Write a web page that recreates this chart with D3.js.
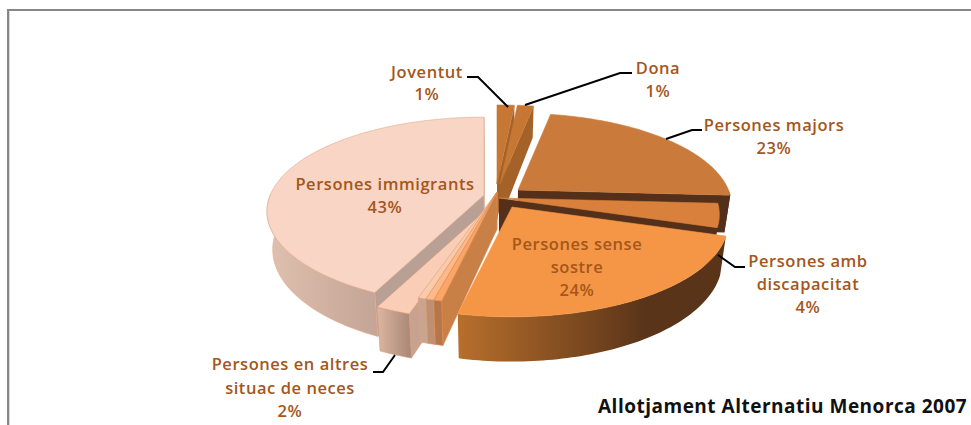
<!DOCTYPE html>
<html><head><meta charset="utf-8">
<script src="https://cdn.jsdelivr.net/npm/d3@7"></script>
<style>html,body{margin:0;padding:0;background:#fff}svg{display:block}</style>
</head><body><svg id="c" width="971" height="425"></svg>
<script>
// data
const categories = ["", "Joventut", "Dona", "Persones majors", "Persones amb discapacitat", "Persones sense sostre", "", "", "", "Persones en altres situac de neces", "Persones immigrants"];
const values = [0.5, 1, 1.4, 23, 4, 23.5, 0.5, 0.5, 0.5, 2.2, 42.9];
const title = "Allotjament Alternatiu Menorca 2007";

// layout / style (separate from the data)
const W = 971, H = 425;
const R = 217, K = 92.7 / 217, P = 0.173, DEPTH = 37, TAPER = 0.975;
const apexes = [[497,184],[497,184],[500,184],[518,190],[499,198],[512,207],[497,192],[497,192],[497,192],[488,208],[484,195]];
const radiusScale = [1,1,1,0.97,1,0.98,1,1,1,1,0.985];
const paintOrder = [0,1,2,3,10,4,9,8,7,6,5];
const topFill = ["#c67734","#c67734","#c67734","#ca7a3a","#d9813c","#f59646","#fba566","#fdb98a","#fbcaa9","#f9cdb6","#f8d5c4"];
const edge = ["#c67734","#c67734","#c67734","#ca7a3a","#d9813c","#f59646","#e08c50","#e09a6c","#dda27e","#dd9a74","#dfa98c"];
const faceFill = ["#a56228","#a56228","#a56228","#54301a","#54301a","#8d5424","#c98047","#c08f6e","#c9a590","#c8a290","#b8a094"];
const sideFrom = ["#a56228","#a56228","#a56228","#54301a","#54301a","#b86f2c","#b57749","#bd8f73","#c9a590","#dcb6a2","#e0c0ae"];
const sideTo = ["#a56228","#a56228","#a56228","#54301a","#54301a","#5a3419","#b57749","#bd8f73","#c9a590","#ab8a78","#c4a596"];
const leaders = [
  [[467,77],[478,77],[508,107]],
  [[632,73],[620,73],[525,105]],
  [[702,130],[692,130],[666,139]],
  [[718,255],[735,267],[745,267]],
  [[395,355],[383,372],[373,372]]
];
const labelLines = [null,["Joventut"],["Dona"],["Persones majors"],["Persones amb","discapacitat"],["Persones sense","sostre"],null,null,null,["Persones en altres","situac de neces"],["Persones immigrants"]];
const labelPos = [null,[427,78,22],[658,74,23],[774,131,23],[808,267,23],[577,250,23],null,null,null,[290,370,23.5],[385,190,23]];

const svg = d3.select("#c");
const defs = svg.append("defs");
const line = d3.line();
const total = d3.sum(values);
const arcs = d3.pie().sort(null).value(d => d)(values);

const topPt = (i, th) => {
  const u = Math.sin(th), v = -Math.cos(th), s = 1 / (1 - P * v);
  const a = apexes[i], rr = R * radiusScale[i];
  return [a[0] + rr * u * s, a[1] + rr * K * v * s];
};
const botPt = (i, p, th) => {
  const s = th === null ? 1 : 1 / (1 + P * Math.cos(th));
  return [497 + (p[0] - 497) * TAPER, p[1] + DEPTH * s];
};
const cross = (a, b, c) => (b[0]-a[0])*(c[1]-a[1]) - (b[1]-a[1])*(c[0]-a[0]);

// border
svg.append("path").attr("d", line([[9.5, H], [9.5, 11.5]])).attr("fill", "none").attr("stroke", "#d8d8d8").attr("stroke-width", 1);
svg.append("path").attr("d", line([[8, H], [8, 10], [W, 10]])).attr("fill", "none").attr("stroke", "#868686").attr("stroke-width", 2);

paintOrder.forEach(i => {
  const a = arcs[i], t0 = a.startAngle, t1 = a.endAngle;
  const n = Math.max(4, Math.ceil((t1 - t0) / 0.02));
  const ths = d3.range(n + 1).map(j => t0 + (t1 - t0) * j / n);
  const top = ths.map(t => topPt(i, t));
  const apex = apexes[i];
  const apexB = botPt(i, apex, null);
  const mid = top[Math.floor(n / 2)];
  const g = svg.append("g");
  // cut faces: only the one whose outside lies below its top edge
  [[top[0], t0], [top[n], t1]].forEach(([c, t]) => {
    const below = [(apex[0] + c[0]) / 2, (apex[1] + c[1]) / 2 + 1];
    if (cross(apex, c, below) * cross(apex, c, mid) < 0) {
      g.append("path").attr("d", line([apex, c, botPt(i, c, t), apexB]) + "Z")
        .attr("fill", faceFill[i]).attr("stroke", edge[i]).attr("stroke-width", i > 5 ? 0.5 : 0);
    }
  });
  // outer wall, front part only
  const vis = ths.filter(t => Math.cos(t) < 0.02);
  if (vis.length > 1) {
    const tp = vis.map(t => topPt(i, t));
    const bp = vis.map((t, j) => botPt(i, tp[j], t));
    const id = "wall" + i;
    const xs = d3.extent(tp, d => d[0]);
    const lg = defs.append("linearGradient").attr("id", id).attr("gradientUnits", "userSpaceOnUse")
      .attr("x1", xs[0]).attr("x2", xs[1]).attr("y1", 0).attr("y2", 0);
    lg.append("stop").attr("offset", 0).attr("stop-color", sideFrom[i]);
    lg.append("stop").attr("offset", i === 5 ? 0.7 : 1).attr("stop-color", sideTo[i]);
    g.append("path").attr("d", line(tp.concat(bp.reverse())) + "Z").attr("fill", `url(#${id})`)
      .attr("stroke", edge[i]).attr("stroke-width", i > 5 ? 0.6 : 0);
  }
  // top
  g.append("path").attr("d", line([apex].concat(top)) + "Z").attr("fill", topFill[i])
    .attr("stroke", edge[i]).attr("stroke-width", 0.6);
});

// leader lines
leaders.forEach(l => svg.append("path").attr("d", line(l)).attr("fill", "none").attr("stroke", "#000").attr("stroke-width", 2));

// labels
const font = "'Open Sans', sans-serif";
categories.forEach((c, i) => {
  if (!labelLines[i]) return;
  const [x, y, dy] = labelPos[i];
  const t = svg.append("text").attr("text-anchor", "middle").attr("font-family", font).attr("font-weight", 600)
    .attr("font-size", 16.5).attr("letter-spacing", 0.55).attr("fill", "#a4561b");
  const pct = Math.round(values[i] / total * 100) + "%";
  labelLines[i].concat([pct]).forEach((s, j) => t.append("tspan").attr("x", x).attr("y", y + j * dy).text(s));
});
svg.append("text").attr("x", 598).attr("y", 413).attr("font-family", font).attr("font-weight", 700)
  .attr("font-size", 19).attr("letter-spacing", 0.5).attr("fill", "#111").text(title);
</script></body></html>
